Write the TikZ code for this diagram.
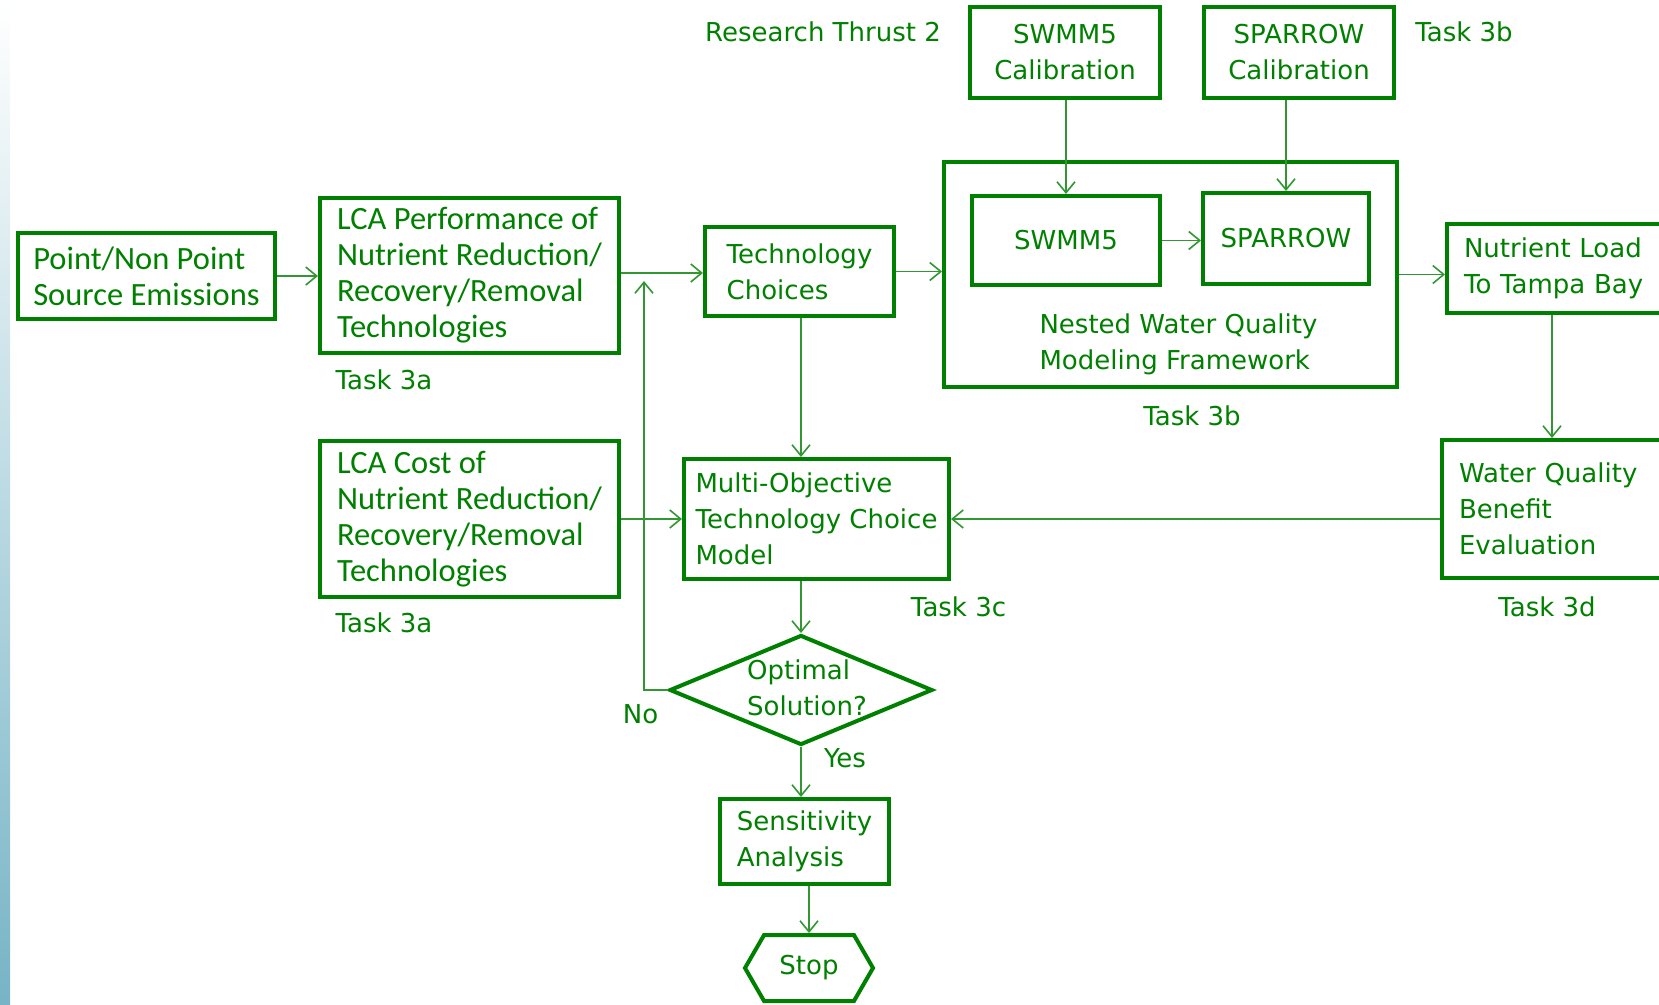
\documentclass[tikz,border=0pt]{standalone}
\usepackage{fontspec}
\setmainfont{Carlito}
\newfontfamily\tahoma{DejaVu Sans}
\usetikzlibrary{arrows.meta,shapes.geometric,shapes.symbols}
\definecolor{flowgreen}{RGB}{0,128,0}
\definecolor{arrowgreen}{RGB}{50,150,50}
\definecolor{stripblue}{RGB}{118,180,198}

\tikzset{
    box/.style={draw=flowgreen, line width=4pt, text=flowgreen, align=left, inner sep=0pt,
        font=\fontsize{32.5}{36}\selectfont},
    tbox/.style={box, font=\tahoma\fontsize{26}{36}\selectfont},
    lbl/.style={text=flowgreen, inner sep=0pt, align=left, font=\tahoma\fontsize{26}{36}\selectfont},
    arr/.style={draw=arrowgreen, line width=1.6pt,
        -{Straight Barb[length=11pt,width=18pt,line width=1.6pt]}},
}

\begin{document}
\begin{tikzpicture}[x=1pt, y=-1pt]
    \useasboundingbox (0,0) rectangle (1659,1004);
    \clip (0,0) rectangle (1659,1004);
    \shade[top color=white, middle color=stripblue!12, bottom color=stripblue] (0,0) rectangle (10,1004);

    \node[box, minimum width=257pt, minimum height=86pt] (src) at (146.5,276) {Point/Non Point\\Source Emissions};
    \node[box, minimum width=299pt, minimum height=155pt] (lcaperf) at (469.5,275.5) {LCA Performance of\\Nutrient Reduction/\\Recovery/Removal\\Technologies};
    \node[box, minimum width=299pt, minimum height=156pt] (lcacost) at (469.5,519) {LCA Cost of\\Nutrient Reduction/\\Recovery/Removal\\Technologies};
    \node[tbox, minimum width=189pt, minimum height=89pt] (tech) at (799.5,271.5) {Technology\\Choices};
    \node[tbox, minimum width=265pt, minimum height=120pt] (moo) at (816.5,519) {Multi-Objective\\Technology Choice\\Model};
    \node[draw=flowgreen, line width=4pt, diamond, minimum width=263pt, minimum height=110pt, inner sep=0pt] (opt) at (801,690) {};
    \node[lbl] (opttxt) at (807,688) {Optimal\\Solution?};
    \node[tbox, minimum width=169pt, minimum height=85pt] (sens) at (804.5,841.5) {Sensitivity\\Analysis};
    \node[lbl, draw=flowgreen, line width=4pt, signal, signal to=east and west, signal pointer angle=120,
        minimum width=128pt, minimum height=66pt] (stop) at (809,968) {Stop};

    \node[box, minimum width=453pt, minimum height=225pt] (nest) at (1170.5,274.5) {};
    \node[lbl] (nesttxt) at (1178.5,344) {Nested Water Quality\\Modeling Framework};
    \node[tbox, minimum width=188pt, minimum height=89pt] (swmm) at (1066,240.5) {SWMM5};
    \node[tbox, minimum width=166pt, minimum height=91pt] (sparrow) at (1286,238.5) {SPARROW};
    \node[tbox, align=center, minimum width=190pt, minimum height=91pt] (swmmcal) at (1065,52.5) {SWMM5\\Calibration};
    \node[tbox, align=center, minimum width=190pt, minimum height=91pt] (sparcal) at (1299,52.5) {SPARROW\\Calibration};
    \node[tbox, anchor=west, text width=240pt, inner xsep=17pt, minimum height=89pt] (load) at (1445,268.5) {Nutrient Load\\To Tampa Bay};
    \node[tbox, anchor=west, text width=240pt, inner xsep=17pt, minimum height=138pt] (wq) at (1440,509) {Water Quality\\Benefit\\Evaluation};

    \node[lbl] (rt2) at (823,32) {Research Thrust 2};
    \node[lbl] (task3btop) at (1464,32) {Task 3b};
    \node[lbl] (task3a1) at (384,380) {Task 3a};
    \node[lbl] (task3a2) at (384,623) {Task 3a};
    \node[lbl] (task3b) at (1192,416) {Task 3b};
    \node[lbl] (task3c) at (958.5,607) {Task 3c};
    \node[lbl] (task3d) at (1547,607) {Task 3d};
    \node[lbl] (no) at (640.5,714) {No};
    \node[lbl] (yes) at (845,758) {Yes};
    \coordinate (noup) at (644,281);

    \draw[arr] (src.east) -- (src.east -| lcaperf.west);
    \draw[arr] (lcaperf.east |- 0,273) -- (tech.west |- 0,273);
    \draw[arr] (opt.west) -| (noup);
    \draw[arr] (lcacost.east) -- (moo.west);
    \draw[arr] (tech.south -| opt.north) -- (moo.north -| opt.north);
    \draw[arr] (tech.east) -- (tech.east -| nest.west);
    \draw[arr] (swmm.east) -- (swmm.east -| sparrow.west);
    \draw[arr] (swmmcal.south -| swmm.north) -- (swmm.north);
    \draw[arr] (sparcal.south -| sparrow.north) -- (sparrow.north);
    \draw[arr] (nest.east) -- (nest.east -| load.west);
    \draw[arr] ([xshift=107pt]load.south west) -- ([xshift=107pt]load.south west |- wq.north);
    \draw[arr] (wq.west |- moo.east) -- (moo.east);
    \draw[arr] (opt.north |- moo.south) -- (opt.north);
    \draw[arr] (opt.south) -- (opt.south |- sens.north);
    \draw[arr] (sens.south -| stop.north) -- (stop.north);
\end{tikzpicture}
\end{document}
